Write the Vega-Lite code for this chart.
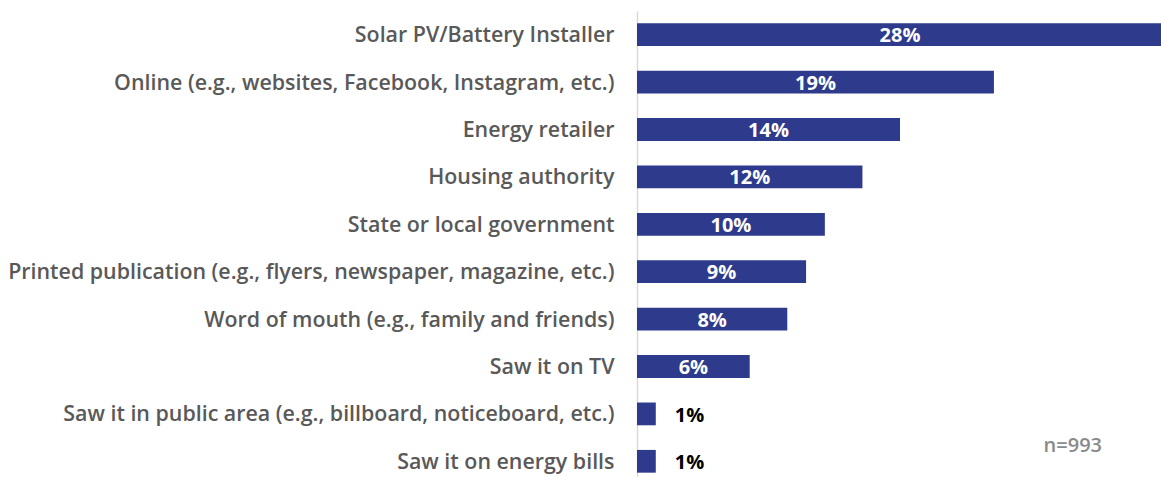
{
  "$schema": "https://vega.github.io/schema/vega-lite/v6.json",
  "width": 526,
  "height": 474,
  "autosize": "none",
  "padding": {"left": 637, "top": 11, "right": 0, "bottom": 0},
  "config": {"view": {"stroke": null}, "font": "Open Sans"},
  "data": {"values": [
    {"cat": "Solar PV/Battery Installer", "v": 0.28},
    {"cat": "Online (e.g., websites, Facebook, Instagram, etc.)", "v": 0.19},
    {"cat": "Energy retailer", "v": 0.14},
    {"cat": "Housing authority", "v": 0.12},
    {"cat": "State or local government", "v": 0.10},
    {"cat": "Printed publication (e.g., flyers, newspaper, magazine, etc.)", "v": 0.09},
    {"cat": "Word of mouth (e.g., family and friends)", "v": 0.08},
    {"cat": "Saw it on TV", "v": 0.06},
    {"cat": "Saw it in public area (e.g., billboard, noticeboard, etc.)", "v": 0.01},
    {"cat": "Saw it on energy bills", "v": 0.01}
  ]},
  "encoding": {
    "y": {"field": "cat", "type": "nominal", "sort": null,
      "scale": {"paddingInner": 0.52, "paddingOuter": 0.26},
      "axis": {"title": null, "ticks": false, "domainColor": "#d9d9d9", "domainWidth": 1.5,
        "labelFont": "Open Sans", "labelFontWeight": 600, "labelFontSize": 21.4, "labelColor": "#595959",
        "labelPadding": 23, "labelLimit": 700, "labelOffset": 1.5}}
  },
  "layer": [
    {"mark": {"type": "bar", "color": "#2E3A8C"},
     "encoding": {"x": {"field": "v", "type": "quantitative", "scale": {"domain": [0, 0.28], "nice": false}, "axis": null}}},
    {"transform": [{"filter": "datum.v >= 0.05"}],
     "mark": {"type": "text", "color": "white", "fontWeight": 700, "fontSize": 20, "font": "Open Sans", "align": "center", "baseline": "middle", "dy": 1.5},
     "encoding": {"x": {"field": "v", "type": "quantitative", "scale": {"domain": [0, 0.56], "nice": false}, "axis": null},
       "text": {"field": "v", "type": "quantitative", "format": ".0%"}}},
    {"transform": [{"filter": "datum.v < 0.05"}],
     "mark": {"type": "text", "color": "black", "fontWeight": 700, "fontSize": 20, "font": "Open Sans", "align": "left", "baseline": "middle", "dy": 2, "dx": 19},
     "encoding": {"x": {"field": "v", "type": "quantitative", "scale": {"domain": [0, 0.28], "nice": false}, "axis": null},
       "text": {"field": "v", "type": "quantitative", "format": ".0%"}}},
    {"data": {"values": [{"cat": "Saw it on energy bills", "v": 0.232, "note": "n=993"}]},
     "mark": {"type": "text", "color": "#8a8a8a", "fontWeight": 600, "fontSize": 20, "font": "Open Sans", "align": "center", "baseline": "middle", "dy": -15},
     "encoding": {"x": {"field": "v", "type": "quantitative", "scale": {"domain": [0, 0.28], "nice": false}, "axis": null},
       "text": {"field": "note"}}}
  ],
  "resolve": {"scale": {"x": "independent"}}
}
